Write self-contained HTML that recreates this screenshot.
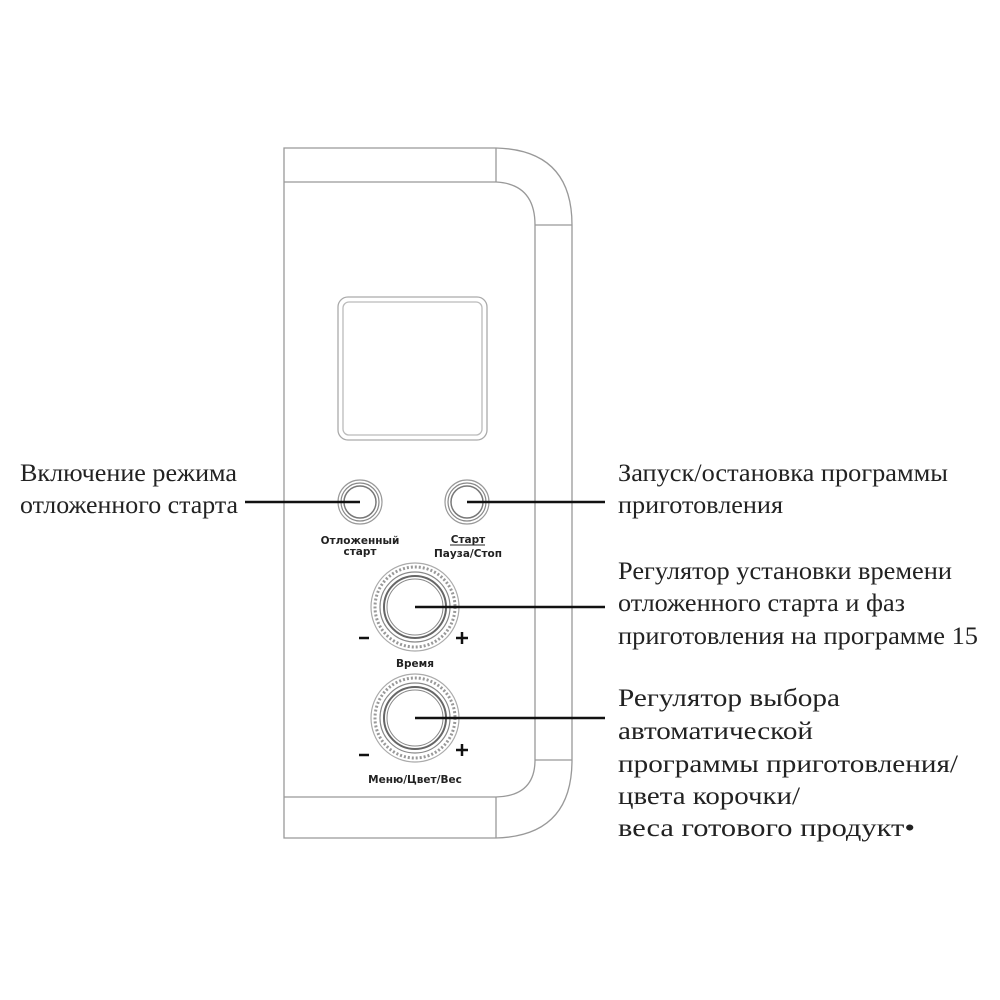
<!DOCTYPE html>
<html><head><meta charset="utf-8"><style>
html,body{margin:0;padding:0;background:#fff;}
svg{display:block}
.t{font-family:"Liberation Serif",serif;font-size:25px;fill:#222;}
.s{font-family:"DejaVu Sans","Liberation Sans",sans-serif;font-size:10.5px;font-weight:bold;fill:#222;text-anchor:middle;}
</style></head><body>
<svg width="1000" height="1000" viewBox="0 0 1000 1000">
<g fill="none" stroke="#999" stroke-width="1.3">
<path d="M284 148 H496 Q572 150 572 225 V760 Q572 836 496 838 H284 Z"/>
<path d="M284 182 H496 Q535 184 535 225 V760 Q535 796 496 797 H284"/>
<line x1="496" y1="148" x2="496" y2="182"/>
<line x1="496" y1="797" x2="496" y2="838"/>
<line x1="535" y1="225" x2="572" y2="225"/>
<line x1="535" y1="760" x2="572" y2="760"/>
<rect x="338" y="297" width="149" height="143" rx="10" stroke="#aaa"/>
<rect x="343" y="302" width="139" height="133" rx="6" stroke="#bbb"/>
</g>
<g fill="none">
<circle cx="360" cy="502" r="22" stroke="#999" stroke-width="1.2"/>
<circle cx="360" cy="502" r="19" stroke="#888" stroke-width="1.2"/>
<circle cx="360" cy="502" r="16" stroke="#777" stroke-width="1.5"/>
<circle cx="467" cy="502" r="22" stroke="#999" stroke-width="1.2"/>
<circle cx="467" cy="502" r="19" stroke="#888" stroke-width="1.2"/>
<circle cx="467" cy="502" r="16" stroke="#777" stroke-width="1.5"/>
<circle cx="415" cy="607" r="44" stroke="#aaa" stroke-width="1.2"/>
<circle cx="415" cy="607" r="40" stroke="#999" stroke-width="3" stroke-dasharray="2 2"/>
<circle cx="415" cy="607" r="35" stroke="#888" stroke-width="1.2"/>
<circle cx="415" cy="607" r="31" stroke="#666" stroke-width="2"/>
<circle cx="415" cy="607" r="28" stroke="#888" stroke-width="1"/>
<circle cx="415" cy="718" r="44" stroke="#aaa" stroke-width="1.2"/>
<circle cx="415" cy="718" r="40" stroke="#999" stroke-width="3" stroke-dasharray="2 2"/>
<circle cx="415" cy="718" r="35" stroke="#888" stroke-width="1.2"/>
<circle cx="415" cy="718" r="31" stroke="#666" stroke-width="2"/>
<circle cx="415" cy="718" r="28" stroke="#888" stroke-width="1"/>
</g>
<g stroke="#111" stroke-width="2.5">
<line x1="245" y1="502" x2="360" y2="502"/>
<line x1="467" y1="502" x2="605" y2="502"/>
<line x1="415" y1="607" x2="605" y2="607"/>
<line x1="415" y1="718" x2="605" y2="718"/>
<line x1="359" y1="638" x2="369" y2="638"/>
<line x1="456" y1="638" x2="468" y2="638"/>
<line x1="462" y1="632" x2="462" y2="644"/>
<line x1="359" y1="755" x2="369" y2="755"/>
<line x1="456" y1="750" x2="468" y2="750"/>
<line x1="462" y1="744" x2="462" y2="756"/>
</g>
<line x1="450" y1="545" x2="485" y2="545" stroke="#222" stroke-width="1"/>
<text class="s" x="360" y="544">Отложенный</text>
<text class="s" x="360" y="555">старт</text>
<text class="s" x="468" y="543">Старт</text>
<text class="s" x="468" y="557">Пауза/Стоп</text>
<text class="s" x="415" y="667">Время</text>
<text class="s" x="415" y="783">Меню/Цвет/Вес</text>
<g class="t" lengthAdjust="spacingAndGlyphs">
<text class="t" lengthAdjust="spacingAndGlyphs" x="20" y="481" textLength="217">Включение режима</text>
<text class="t" lengthAdjust="spacingAndGlyphs" x="20" y="513" textLength="218">отложенного старта</text>
<text class="t" lengthAdjust="spacingAndGlyphs" x="618" y="481" textLength="330">Запуск/остановка программы</text>
<text class="t" lengthAdjust="spacingAndGlyphs" x="618" y="513" textLength="165">приготовления</text>
<text class="t" lengthAdjust="spacingAndGlyphs" x="618" y="579" textLength="334">Регулятор установки времени</text>
<text class="t" lengthAdjust="spacingAndGlyphs" x="618" y="611" textLength="287">отложенного старта и фаз</text>
<text class="t" lengthAdjust="spacingAndGlyphs" x="618" y="644" textLength="360">приготовления на программе 15</text>
<text class="t" lengthAdjust="spacingAndGlyphs" x="618" y="706" textLength="222">Регулятор выбора</text>
<text class="t" lengthAdjust="spacingAndGlyphs" x="618" y="739" textLength="195">автоматической</text>
<text class="t" lengthAdjust="spacingAndGlyphs" x="618" y="772" textLength="340">программы приготовления/</text>
<text class="t" lengthAdjust="spacingAndGlyphs" x="618" y="804" textLength="182">цвета корочки/</text>
<text class="t" lengthAdjust="spacingAndGlyphs" x="618" y="836" textLength="297">веса готового продукт•</text>
</g>
</svg>
</body></html>
